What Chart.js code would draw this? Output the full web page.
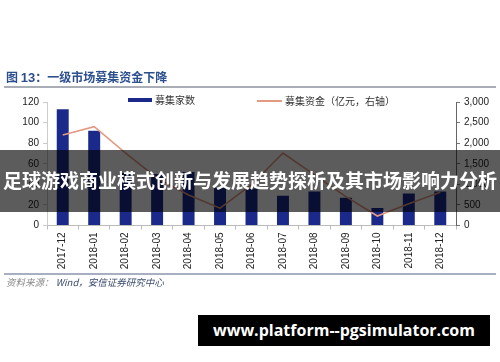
<!DOCTYPE html>
<html>
<head>
<meta charset="utf-8">
<script src="https://cdn.jsdelivr.net/npm/chart.js@4"></script>
<style>
    html, body { margin: 0; padding: 0; background: #fff; }
    #wrap { position: relative; width: 500px; height: 362px; overflow: hidden; font-family: "Liberation Sans", Arial, sans-serif; }
    #chart { position: absolute; left: 0; top: 0; }
    .abs { position: absolute; white-space: nowrap; }
    #title { left: 6px; top: 69px; font: bold 12px "Noto Sans CJK SC", sans-serif; color: #2c4f8e; line-height: 16px; }
    #title b { font-family: "Liberation Sans", Arial, sans-serif; font-size: 13px; }
    .rule { position: absolute; left: 4px; width: 492px; height: 2px; background: #a9adb5; }
    .legend { font: 10px "Noto Sans CJK SC", sans-serif; color: #333; line-height: 12px; }
    .swatch { position: absolute; }
    #source { left: 6px; top: 276px; font: italic 9.5px "Noto Sans CJK SC", sans-serif; color: #888; line-height: 13px; }
    #source span { color: #3d4d6e; }
    #band { position: absolute; left: 0; top: 150px; width: 500px; height: 62px; background: rgba(0,0,0,0.64);
            color: #fff; font: bold 19px "Noto Sans CJK SC", sans-serif; line-height: 62px; text-align: center; letter-spacing: 0px; margin-top: 0; }
    #band div { position: relative; top: -1px; }
    #site { left: 198px; top: 315px; width: 292px; height: 31px; background: #000; color: #fff;
            font: bold 16px "Open Sans", sans-serif; line-height: 31px; text-align: center; }
</style>
</head>
<body>
<div id="wrap">
    <canvas id="chart" width="500" height="362"></canvas>

    <div id="title" class="abs">图 <b>13</b>：一级市场募集资金下降</div>
    <div class="rule" style="top: 86px;"></div>

    <div class="swatch" id="barSwatch" style="left: 128px; top: 98px; width: 24px; height: 4px;"></div>
    <div class="abs legend" style="left: 155px; top: 94px;">募集家数</div>
    <div class="swatch" id="lineSwatch" style="left: 257px; top: 100px; width: 25px; height: 2px;"></div>
    <div class="abs legend" style="left: 285px; top: 95px;">募集资金（亿元，右轴）</div>

    <div class="rule" style="top: 273px; background: #a7afc0;"></div>
    <div id="source" class="abs">资料来源：&nbsp;<span>Wind，安信证券研究中心</span></div>

    <div id="band"><div>足球游戏商业模式创新与发展趋势探析及其市场影响力分析</div></div>
    <div id="site" class="abs">www.platform--pgsimulator.com</div>
</div>

<script>
// ── Data ─────────────────────────────────────────────────────────────
const months = ['2017-12', '2018-01', '2018-02', '2018-03', '2018-04', '2018-05', '2018-06',
                '2018-07', '2018-08', '2018-09', '2018-10', '2018-11', '2018-12'];
const dealCounts = [113, 92, 51, 50, 52, 37, 36, 29, 33, 27, 17, 31, 33];   // 募集家数
const fundsRaised = [2200, 2400, 1760, 1150, 740, 420, 990, 1760, 1230, 700, 230, 530, 810]; // 亿元

const leftTicks = [0, 20, 40, 60, 80, 100, 120];
const rightTicks = [0, 500, 1000, 1500, 2000, 2500, 3000];

// ── Style ────────────────────────────────────────────────────────────
const BAR_COLOR = '#1b2a8a';
const LINE_COLOR = '#e39a80';
const TICK_FONT = { family: '"Liberation Sans", Arial, sans-serif', size: 10 };

document.getElementById('barSwatch').style.background = BAR_COLOR;
document.getElementById('lineSwatch').style.background = LINE_COLOR;

// ── Chart ────────────────────────────────────────────────────────────
const ctx = document.getElementById('chart').getContext('2d');
new Chart(ctx, {
    data: {
        labels: months,
        datasets: [
            {
                type: 'line',
                label: '募集资金（亿元，右轴）',
                data: fundsRaised,
                yAxisID: 'y1',
                borderColor: LINE_COLOR,
                borderWidth: 1.6,
                pointRadius: 0,
                tension: 0,
                order: 0
            },
            {
                type: 'bar',
                label: '募集家数',
                data: dealCounts,
                yAxisID: 'y',
                backgroundColor: BAR_COLOR,
                barPercentage: 0.38,
                categoryPercentage: 1,
                order: 1
            }
        ]
    },
    options: {
        responsive: false,
        animation: false,
        layout: { padding: { top: 102, left: 0, right: 0, bottom: 0 } },
        plugins: { legend: { display: false }, tooltip: { enabled: false } },
        scales: {
            x: {
                afterFit: s => { s.height = 136.5; },
                grid: { drawOnChartArea: false, tickLength: 4, color: '#bbb' },
                border: { color: '#bbb' },
                ticks: { minRotation: 90, maxRotation: 90, autoSkip: false, padding: 3, color: '#222', font: TICK_FONT }
            },
            y: {
                position: 'left',
                min: leftTicks[0],
                max: leftTicks[leftTicks.length - 1],
                afterFit: s => { s.width = 47; },
                afterBuildTicks: s => { s.ticks = leftTicks.map(v => ({ value: v })); },
                grid: { drawOnChartArea: false, tickLength: 4, color: '#ccc' },
                border: { color: '#ccc' },
                ticks: { padding: 4, color: '#222', font: TICK_FONT }
            },
            y1: {
                position: 'right',
                min: rightTicks[0],
                max: rightTicks[rightTicks.length - 1],
                afterFit: s => { s.width = 44; },
                afterBuildTicks: s => { s.ticks = rightTicks.map(v => ({ value: v })); },
                grid: { drawOnChartArea: false, tickLength: 4, color: '#777' },
                border: { color: '#666' },
                ticks: {
                    padding: 4, color: '#222', font: TICK_FONT,
                    callback: v => v.toLocaleString('en-US')
                }
            }
        }
    }
});
</script>
</body>
</html>
